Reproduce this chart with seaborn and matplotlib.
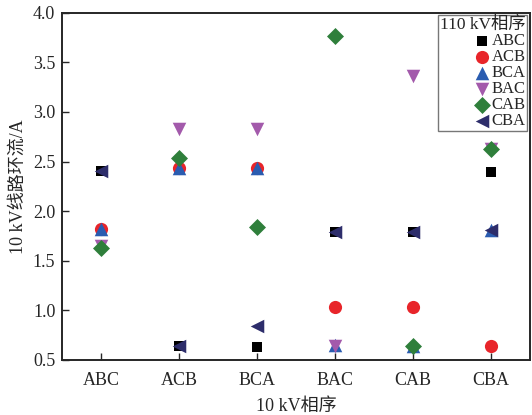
import matplotlib
matplotlib.use("Agg")
import matplotlib.pyplot as plt
import seaborn as sns
import pandas as pd

categories = ["ABC", "ACB", "BCA", "BAC", "CAB", "CBA"]  # 10 kV phase sequence
series_names = ["ABC", "ACB", "BCA", "BAC", "CAB", "CBA"]  # 110 kV phase sequence

vals_ABC = [2.40, 0.64, 0.63, 1.79, 1.79, 2.39]
vals_ACB = [1.82, 2.43, 2.43, 1.03, 1.03, 0.64]
vals_BCA = [1.82, 2.44, 2.44, 0.65, 0.64, 1.81]
vals_BAC = [1.65, 2.83, 2.83, 0.64, 3.36, 2.63]
vals_CAB = [1.63, 2.54, 1.84, 3.77, 0.64, 2.63]
vals_CBA = [2.40, 0.64, 0.84, 1.79, 1.79, 1.81]

yticks = [0.5, 1.0, 1.5, 2.0, 2.5, 3.0, 3.5, 4.0]

all_vals = [vals_ABC, vals_ACB, vals_BCA, vals_BAC, vals_CAB, vals_CBA]
rows = []
for name, vals in zip(series_names, all_vals):
    for c, v in zip(categories, vals):
        rows.append({"seq10": c, "seq110": name, "I": v})
df = pd.DataFrame(rows)
df["x"] = df["seq10"].map({c: i for i, c in enumerate(categories)})

sns.set_style("ticks")
plt.rcParams['font.family'] = ['Liberation Serif', 'Noto Sans CJK SC']
plt.rcParams['axes.unicode_minus'] = False

palette = {"ABC": "#000000", "ACB": "#e8252a", "BCA": "#2a5cb0",
           "BAC": "#a35aab", "CAB": "#2f7f3b", "CBA": "#2d2d6b"}
markers = {"ABC": "s", "ACB": "o", "BCA": "^", "BAC": "v", "CAB": "D", "CBA": "<"}
sizes = {"ABC": 55, "ACB": 90, "BCA": 95, "BAC": 95, "CAB": 75, "CBA": 95}

fig = plt.figure(figsize=(5.32, 4.15), dpi=100)
ax = fig.add_axes([0.117, 0.133, 0.879, 0.836])

for name in series_names:
    sub = df[df["seq110"] == name]
    sns.scatterplot(data=sub, x="x", y="I", color=palette[name], marker=markers[name],
                    s=sizes[name], linewidth=0, ax=ax, label=name, zorder=3)

ax.set_xlim(-0.5, 5.5)
ax.set_ylim(0.5, 4.0)
ax.set_xticks(range(len(categories)))
ax.set_xticklabels(categories)
ax.set_yticks(yticks)
ax.set_yticklabels([f"{t:.1f}" for t in yticks])
ax.tick_params(direction="in", labelsize=13, length=5, width=1)
ax.tick_params(axis="x", pad=9)
ax.tick_params(axis="y", pad=5)
ax.set_xlabel("10 kV相序", fontsize=13, labelpad=6)
ax.set_ylabel("10 kV线路环流/A", fontsize=13, labelpad=4)
for sp in ax.spines.values():
    sp.set_visible(True)
    sp.set_linewidth(1.4)

leg = ax.legend(title="110 kV相序", loc="upper right", fontsize=12, title_fontsize=12.5,
                frameon=True, fancybox=False, borderpad=0.1, labelspacing=0.0,
                handletextpad=0.1, borderaxespad=0.15, markerfirst=True, handlelength=1.0)
leg.get_frame().set_edgecolor("#555555")
leg.get_frame().set_linewidth(1.0)
leg._legend_box.align = "right"

fig.savefig("out.png", dpi=100)
